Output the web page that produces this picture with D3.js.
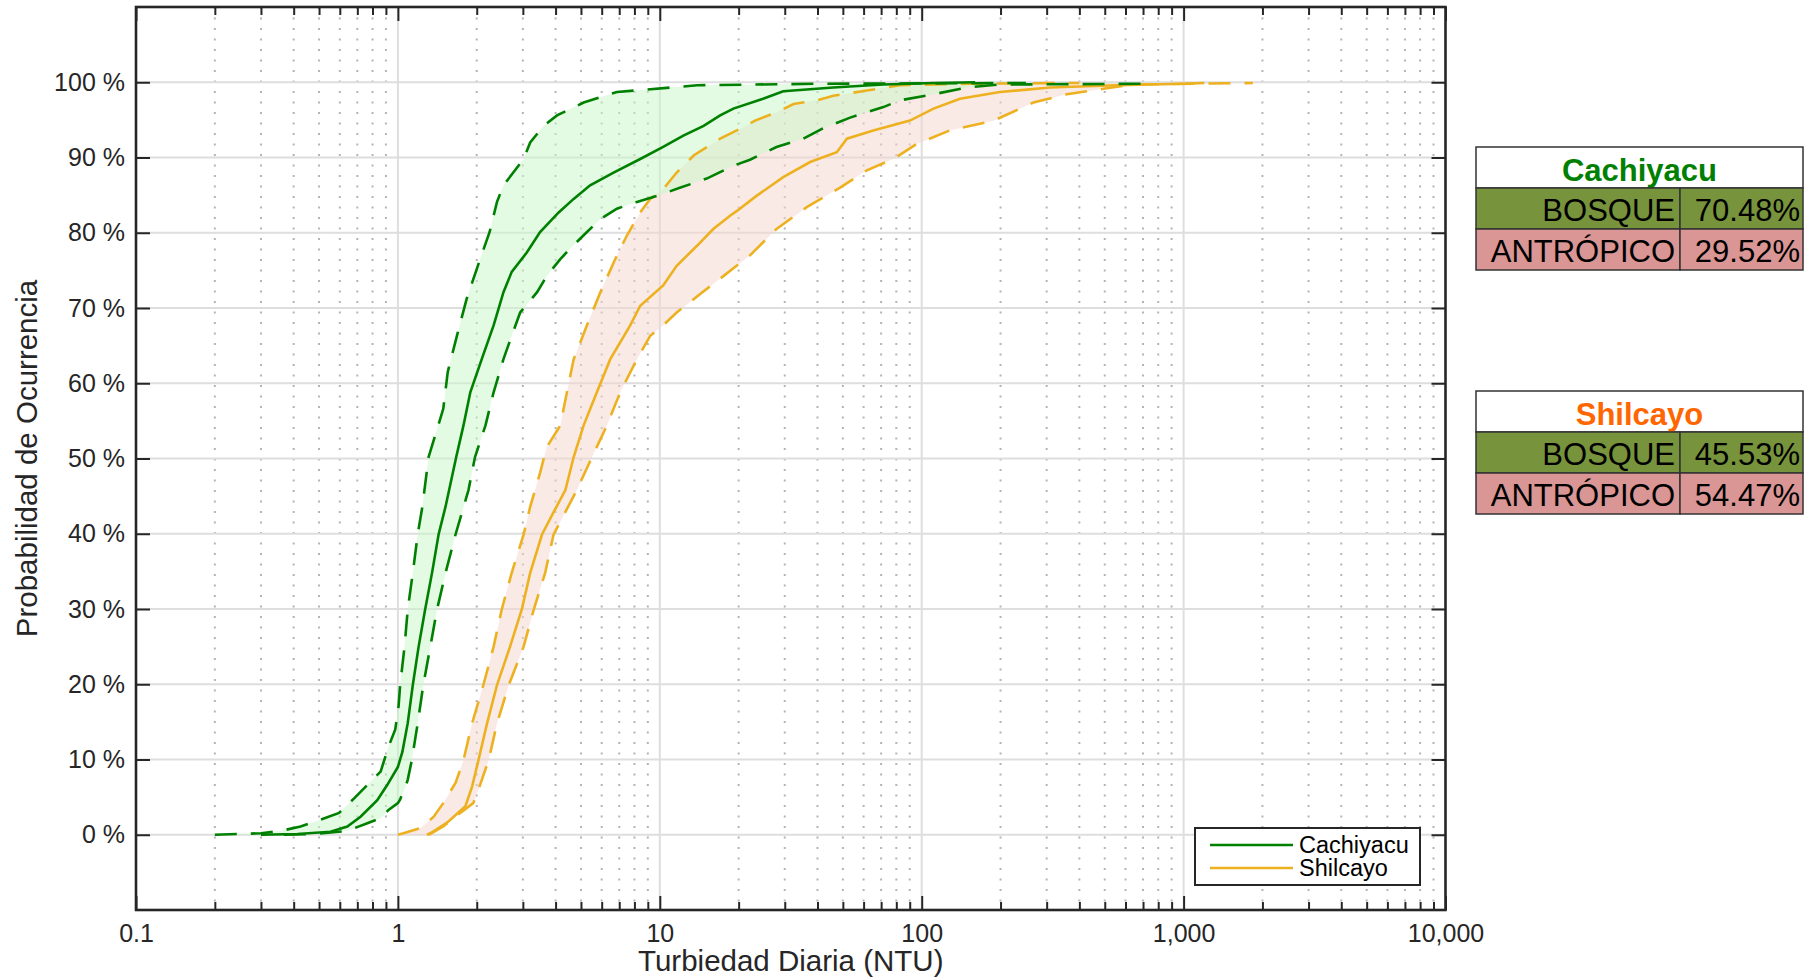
<!DOCTYPE html>
<html>
<head>
<meta charset="utf-8">
<script src="https://cdn.jsdelivr.net/npm/d3@7"></script>
<style>
  body { margin: 0; background: #fff; }
  svg { display: block; font-family: "Liberation Sans", Arial, Helvetica, sans-serif; }
</style>
</head>
<body>
<script>

// [turbidez NTU, probabilidad %]
var cachiyacuUpper = [[0.20,0],[0.30,0.2],[0.356,0.5],[0.425,1.1],[0.507,2.0],[0.596,2.9],[0.679,4.8],[0.764,6.6],[0.859,8.4],[0.921,11.7],[0.977,14.0],[1.006,17.1],[1.02,19.9],[1.06,25.0],[1.09,29.9],[1.14,34.8],[1.19,39.9],[1.24,43.6],[1.31,50.2],[1.49,56.6],[1.55,61.5],[1.68,66.3],[1.83,71.2],[2.06,76.5],[2.24,80.1],[2.39,84.1],[2.53,86.3],[3.02,89.8],[3.20,92.0],[3.60,94.2],[4.05,95.6],[5.12,97.3],[6.86,98.7],[13.9,99.6],[40,99.8],[250,99.9]];
var cachiyacuMedian = [[0.30,0],[0.413,0.1],[0.553,0.4],[0.641,1.1],[0.72,2.4],[0.834,4.6],[0.91,6.6],[1.0,9.0],[1.04,11.0],[1.09,14.8],[1.14,19.9],[1.20,25.0],[1.27,29.9],[1.35,34.8],[1.43,39.9],[1.52,43.6],[1.67,50.2],[1.78,54.4],[1.89,58.8],[2.09,63.2],[2.32,67.7],[2.53,72.1],[2.72,74.8],[3.11,77.4],[3.49,80.1],[4.11,82.7],[4.69,84.5],[5.42,86.3],[6.66,88.0],[8.42,89.8],[10.3,91.4],[12.3,92.9],[14.7,94.2],[17.0,95.6],[19.1,96.5],[24.8,97.8],[29.6,98.8],[46.0,99.3],[71.4,99.7],[111,99.9],[160,100]];
var cachiyacuLower = [[0.367,0],[0.48,0.1],[0.64,0.5],[0.76,1.5],[0.86,2.2],[0.921,3.3],[1.0,4.2],[1.02,4.7],[1.07,6.4],[1.09,7.3],[1.13,9.9],[1.19,14.8],[1.25,19.9],[1.33,25.0],[1.41,29.9],[1.52,34.8],[1.66,39.9],[1.86,45.8],[1.97,50.2],[2.16,54.4],[2.32,58.8],[2.53,63.2],[2.72,66.3],[2.93,69.4],[3.40,72.1],[3.71,74.3],[4.17,76.5],[4.55,77.9],[5.27,80.1],[5.93,81.8],[6.86,83.2],[8.18,84.1],[9.75,84.9],[12.0,86.0],[15.1,87.2],[19.1,88.9],[22.1,89.7],[27.9,91.4],[35.3,92.5],[42.1,93.9],[53.3,95.3],[71.4,96.7],[82.7,97.6],[111,98.4],[149,99.3],[199,99.7],[745,99.8]];

var shilcayoUpper = [[1.0,0],[1.05,0.2],[1.22,0.9],[1.37,2.4],[1.49,4.2],[1.66,6.9],[1.78,9.9],[1.83,11.7],[1.92,14.8],[2.12,19.9],[2.32,25.0],[2.49,29.9],[2.72,34.8],[3.02,39.9],[3.20,43.6],[3.49,48.1],[3.70,51.5],[4.17,54.4],[4.42,58.8],[4.69,63.2],[5.27,67.7],[5.93,72.1],[6.76,76.5],[7.48,79.6],[8.42,82.7],[9.19,84.5],[10.3,85.8],[11.6,88.0],[13.5,90.3],[17.0,92.5],[20.2,93.8],[23.1,94.9],[27.9,96.0],[32.4,97.1],[39.7,97.6],[46.0,98.2],[61.7,98.9],[82.7,99.6],[148,99.8],[400,99.9]];
var shilcayoMedian = [[1.29,0],[1.33,0.2],[1.54,1.6],[1.81,3.8],[1.92,6.4],[2.03,9.9],[2.19,14.8],[2.39,19.9],[2.68,25.0],[2.97,29.9],[3.20,34.8],[3.55,39.9],[3.95,43.0],[4.36,45.8],[4.69,50.2],[5.12,54.4],[5.75,58.8],[6.47,63.2],[7.71,67.7],[8.42,70.3],[10.3,73.0],[11.6,75.6],[13.9,78.3],[16.0,80.5],[18.6,82.3],[19.7,82.9],[23.4,84.9],[29.6,87.4],[37.5,89.4],[47.4,90.7],[51.8,92.5],[65.3,93.6],[90.2,94.9],[111,96.5],[140,97.8],[199,98.7],[309,99.3],[556,99.6],[1000,99.8],[1200,99.9]];
var shilcayoLower = [[1.31,0],[1.49,1.1],[1.73,2.9],[1.94,4.2],[2.03,6.0],[2.22,9.9],[2.39,14.8],[2.65,19.9],[3.02,25.0],[3.30,29.9],[3.65,34.8],[3.93,39.9],[4.82,45.8],[5.65,51.0],[6.28,54.4],[7.06,58.8],[8.18,63.2],[9.19,66.3],[10.3,67.7],[11.6,69.4],[13.5,71.2],[14.3,71.9],[17.0,73.9],[22.1,77.0],[27.9,80.5],[36.4,83.4],[48.8,86.0],[61.7,88.3],[78,89.8],[95.7,91.8],[128,93.6],[188,94.9],[267,97.3],[358,98.4],[509,99.2],[643,99.7],[1840,99.9]];

var seriesNames = ["Cachiyacu", "Shilcayo"];
var xTicks = [0.1, 1, 10, 100, 1000, 10000];
var xTickLabels = ["0.1", "1", "10", "100", "1,000", "10,000"];
var yTicks = [0, 10, 20, 30, 40, 50, 60, 70, 80, 90, 100];

var coverLabels = ["BOSQUE", "ANTRÓPICO"];
var cachiyacuShare = ["70.48%", "29.52%"];
var shilcayoShare = ["45.53%", "54.47%"];

var width = 1806, height = 978;
var plotLeft = 136, plotRight = 1445.5, plotTop = 7, plotBottom = 910;
var axisColor = "#262626";
var font = "'Liberation Sans', Arial, Helvetica, sans-serif";

var svg = d3.select("body").append("svg")
    .attr("width", width)
    .attr("height", height);

svg.append("rect").attr("width", width).attr("height", height).attr("fill", "#fff");

var x = d3.scaleLog().domain([0.1, 10000]).range([plotLeft, plotRight]);
var y = d3.scaleLinear().domain([-10, 110]).range([plotBottom, plotTop]);

// minor ticks 2..9 in each decade
var minorX = [];
xTicks.slice(0, -1).forEach(function(d) {
    for (var k = 2; k <= 9; k++) minorX.push(d * k);
});

// grid
var grid = svg.append("g");
grid.selectAll(".gminor").data(minorX).enter().append("line")
    .attr("x1", function(d) { return x(d); })
    .attr("x2", function(d) { return x(d); })
    .attr("y1", plotTop).attr("y2", plotBottom)
    .attr("stroke", "#b4b4b4").attr("stroke-width", 2)
    .attr("stroke-dasharray", "2,8.5");
grid.selectAll(".gx").data(xTicks.slice(1, -1)).enter().append("line")
    .attr("x1", function(d) { return x(d); })
    .attr("x2", function(d) { return x(d); })
    .attr("y1", plotTop).attr("y2", plotBottom)
    .attr("stroke", "#dedede").attr("stroke-width", 2);
grid.selectAll(".gy").data(yTicks).enter().append("line")
    .attr("x1", plotLeft).attr("x2", plotRight)
    .attr("y1", function(d) { return y(d); })
    .attr("y2", function(d) { return y(d); })
    .attr("stroke", "#dedede").attr("stroke-width", 2);

var series = [
    { name: seriesNames[1], upper: shilcayoUpper, median: shilcayoMedian, lower: shilcayoLower, color: "#EDB120", fill: "#f6d6cd" },
    { name: seriesNames[0], upper: cachiyacuUpper, median: cachiyacuMedian, lower: cachiyacuLower, color: "#008000", fill: "#c6f8c6" }
];

var line = d3.line()
    .x(function(d) { return x(d[0]); })
    .y(function(d) { return y(d[1]); });

var plot = svg.append("g");

// bands
series.forEach(function(s) {
    plot.append("path")
        .attr("d", line(s.upper.concat(s.lower.slice().reverse())) + "Z")
        .attr("fill", s.fill)
        .attr("fill-opacity", 0.5)
        .attr("stroke", "none");
});

// lines
series.forEach(function(s) {
    [s.upper, s.lower].forEach(function(c) {
        plot.append("path")
            .attr("d", line(c))
            .attr("fill", "none")
            .attr("stroke", s.color)
            .attr("stroke-width", 2.6)
            .attr("stroke-dasharray", "22,14");
    });
    plot.append("path")
        .attr("d", line(s.median))
        .attr("fill", "none")
        .attr("stroke", s.color)
        .attr("stroke-width", 2.6);
});

// axes
function styleAxis(g) {
    g.attr("font-family", font).attr("font-size", 25);
    g.select(".domain").remove();
    g.selectAll(".tick line").attr("stroke", axisColor).attr("stroke-width", 2);
    g.selectAll(".tick text").attr("fill", axisColor);
}

svg.append("g").attr("transform", "translate(0," + plotBottom + ")")
    .call(d3.axisBottom(x).tickValues(minorX).tickFormat("").tickSizeInner(-8).tickSizeOuter(0))
    .call(styleAxis);
svg.append("g").attr("transform", "translate(0," + plotTop + ")")
    .call(d3.axisTop(x).tickValues(minorX).tickFormat("").tickSizeInner(-8).tickSizeOuter(0))
    .call(styleAxis);
svg.append("g").attr("transform", "translate(0," + plotBottom + ")")
    .call(d3.axisBottom(x).tickValues(xTicks)
        .tickFormat(function(d, i) { return xTickLabels[i]; })
        .tickSizeInner(-14).tickSizeOuter(0).tickPadding(14))
    .call(styleAxis);
svg.append("g").attr("transform", "translate(0," + plotTop + ")")
    .call(d3.axisTop(x).tickValues(xTicks).tickFormat("").tickSizeInner(-14).tickSizeOuter(0))
    .call(styleAxis);
svg.append("g").attr("transform", "translate(" + plotLeft + ",0)")
    .call(d3.axisLeft(y).tickValues(yTicks)
        .tickFormat(function(d) { return d + " %"; })
        .tickSizeInner(-14).tickSizeOuter(0).tickPadding(11))
    .call(styleAxis);
svg.append("g").attr("transform", "translate(" + plotRight + ",0)")
    .call(d3.axisRight(y).tickValues(yTicks).tickFormat("").tickSizeInner(-14).tickSizeOuter(0))
    .call(styleAxis);

// box
svg.append("rect")
    .attr("x", plotLeft).attr("y", plotTop)
    .attr("width", plotRight - plotLeft).attr("height", plotBottom - plotTop)
    .attr("fill", "none").attr("stroke", axisColor).attr("stroke-width", 2.6);

// axis titles
svg.append("text")
    .attr("x", (plotLeft + plotRight) / 2).attr("y", 971)
    .attr("text-anchor", "middle")
    .attr("font-size", 29.5).attr("fill", axisColor)
    .text("Turbiedad Diaria (NTU)");
svg.append("text")
    .attr("transform", "translate(37," + (plotTop + plotBottom) / 2 + ") rotate(-90)")
    .attr("text-anchor", "middle")
    .attr("font-size", 29.5).attr("fill", axisColor)
    .text("Probabilidad de Ocurrencia");

// legend
var legend = svg.append("g").attr("transform", "translate(1195,828)");
legend.append("rect")
    .attr("width", 225).attr("height", 57)
    .attr("fill", "#fff").attr("stroke", axisColor).attr("stroke-width", 2);
var legendColors = ["#008000", "#EDB120"];
seriesNames.forEach(function(name, i) {
    legend.append("line")
        .attr("x1", 15).attr("x2", 98)
        .attr("y1", 17 + i * 23).attr("y2", 17 + i * 23)
        .attr("stroke", legendColors[i]).attr("stroke-width", 2.6);
    legend.append("text")
        .attr("x", 104).attr("y", 25 + i * 23)
        .attr("font-size", 23.5).attr("fill", "#000")
        .text(name);
});

// tables
var tableLeft = 1476, tableMid = 1680, tableRight = 1803, rowH = 41;
var tableTops = [147, 391];
var titleColors = ["#008000", "#FF6600"];
var cellFills = ["#77933C", "#D99694"];
var shares = [cachiyacuShare, shilcayoShare];

seriesNames.forEach(function(name, t) {
    var g = svg.append("g").attr("transform", "translate(0," + tableTops[t] + ")");
    g.append("rect")
        .attr("x", tableLeft).attr("y", 0)
        .attr("width", tableRight - tableLeft).attr("height", rowH)
        .attr("fill", "#fff").attr("stroke", "#333").attr("stroke-width", 1.5);
    g.append("text")
        .attr("x", (tableLeft + tableRight) / 2).attr("y", 34)
        .attr("text-anchor", "middle")
        .attr("font-size", 31).attr("font-weight", "bold")
        .attr("fill", titleColors[t])
        .text(name);
    coverLabels.forEach(function(label, r) {
        var ry = rowH * (r + 1);
        g.append("rect")
            .attr("x", tableLeft).attr("y", ry)
            .attr("width", tableMid - tableLeft).attr("height", rowH)
            .attr("fill", cellFills[r]).attr("stroke", "#333").attr("stroke-width", 1.5);
        g.append("rect")
            .attr("x", tableMid).attr("y", ry)
            .attr("width", tableRight - tableMid).attr("height", rowH)
            .attr("fill", cellFills[r]).attr("stroke", "#333").attr("stroke-width", 1.5);
        g.append("text")
            .attr("x", tableMid - 5).attr("y", ry + 33)
            .attr("text-anchor", "end").attr("font-size", 31).attr("fill", "#000")
            .text(label);
        g.append("text")
            .attr("x", tableRight - 3).attr("y", ry + 33)
            .attr("text-anchor", "end").attr("font-size", 31).attr("fill", "#000")
            .text(shares[t][r]);
    });
});

</script>
</body>
</html>
